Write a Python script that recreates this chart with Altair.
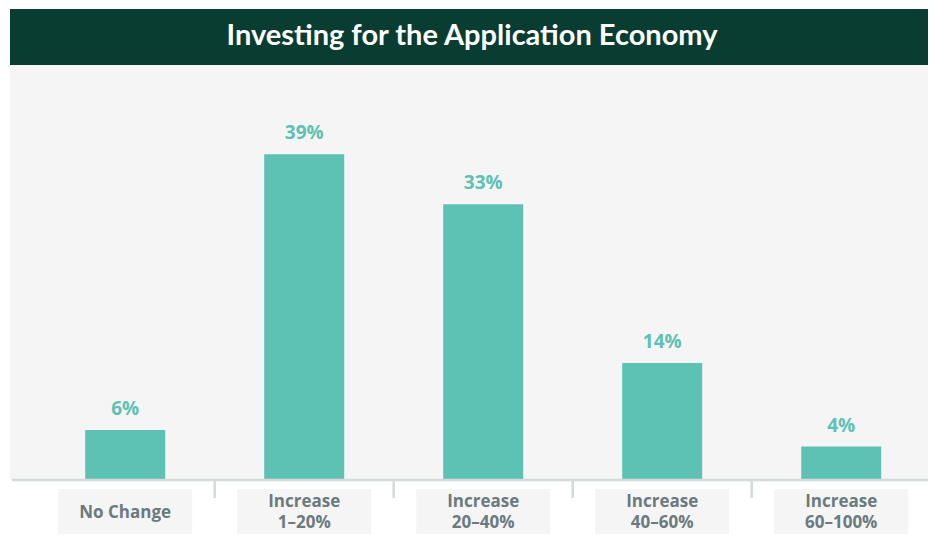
import altair as alt
import pandas as pd

categories = ["No Change", "Increase 1–20%", "Increase 20–40%", "Increase 40–60%", "Increase 60–100%"]
axis_labels = ["No Change", "Increase\n1–20%", "Increase\n20–40%", "Increase\n40–60%", "Increase\n60–100%"]
line_counts = [1, 2, 2, 2, 2]
values = [6, 39, 33, 14, 4]
title_text = "Investing for the Application Economy"

df = pd.DataFrame({
    "cat": categories,
    "label": axis_labels,
    "lines": line_counts,
    "value": values,
    "pct": [f"{v}%" for v in values],
})

TITLE_FONT = "Lato"
FONT = "Open Sans"
TEAL = "#5dc1b4"
DARK = "#0a3d31"
GRAY_BG = "#f5f5f5"
LINE = "#d3dcda"
LABEL_COL = "#6b7a7f"

xscale = alt.Scale(domain=categories, range=[27.7, 922.7], paddingInner=0, paddingOuter=0)
yscale = alt.Scale(domain=[0, 56.5], nice=False, zero=True)
X = alt.X("cat:N", sort=categories, scale=xscale, axis=None)

one = alt.Data(values=[{"t": title_text}])

title_bar = alt.Chart(one).mark_rect(color=DARK).encode(
    x=alt.value(2), x2=alt.value(920), y=alt.value(1), y2=alt.value(57)
)
plot_bg = alt.Chart(one).mark_rect(color=GRAY_BG).encode(
    x=alt.value(2), x2=alt.value(920), y=alt.value(57), y2=alt.value(472)
)
title = alt.Chart(one).mark_text(
    font=TITLE_FONT, fontSize=29, fontWeight="bold", color="white", baseline="middle", align="center"
).encode(x=alt.value(464), y=alt.value(28), text="t:N")

base = alt.Chart(df)

bars = base.mark_bar(color=TEAL, size=80).encode(
    x=X, y=alt.Y("value:Q", scale=yscale, axis=None)
)
bar_labels = base.mark_text(
    font=FONT, fontSize=19, fontWeight="bold", color=TEAL, baseline="bottom", dy=-11
).encode(x=X, y=alt.Y("value:Q", scale=yscale), text="pct:N")

baseline = alt.Chart(one).mark_rule(color=LINE, strokeWidth=2.5).encode(
    x=alt.value(4), x2=alt.value(920), y=alt.value(472)
)
seps = base.transform_filter(alt.datum.cat != categories[-1]).mark_rule(
    color=LINE, strokeWidth=2.5
).encode(
    x=alt.X("cat:N", sort=categories, scale=xscale, axis=None, bandPosition=1),
    y=alt.value(472), y2=alt.value(490)
)
boxes = base.mark_bar(color=GRAY_BG, size=134).encode(
    x=X, y=alt.value(481), y2=alt.value(526)
)
label_style = dict(
    font=FONT, fontSize=17, fontWeight="bold", color=LABEL_COL, baseline="middle",
    lineBreak="\n", lineHeight=21
)
xlabels_one = base.transform_filter(alt.datum.lines == 1).mark_text(**label_style).encode(
    x=X, y=alt.value(505), text="label:N"
)
xlabels_two = base.transform_filter(alt.datum.lines == 2).mark_text(**label_style).encode(
    x=X, y=alt.value(494), text="label:N"
)

chart = alt.layer(
    title_bar, plot_bg, title, bars, bar_labels, baseline, seps, boxes, xlabels_one, xlabels_two
).properties(
    width=920, height=472,
    autosize=alt.AutoSizeParams(type="none"),
    padding={"left": 0, "top": 0, "right": 0, "bottom": 54},
    background="white",
).configure_view(stroke=None).resolve_scale(x="shared", y="shared")

chart.save("out.html", embed_options={"renderer": "svg", "actions": False})
